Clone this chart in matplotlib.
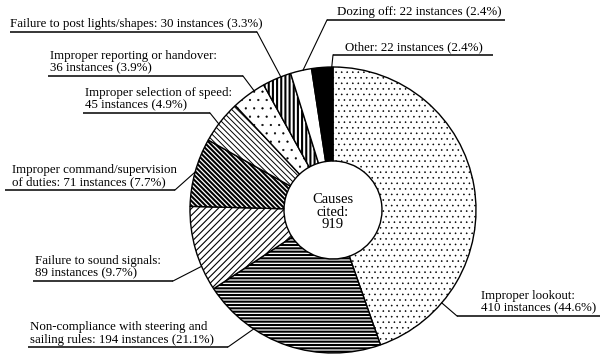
import numpy as np
import matplotlib
matplotlib.use("Agg")
import matplotlib.pyplot as plt

# ---- data ----
causes = ["Improper lookout", "Non-compliance with steering and sailing rules",
          "Failure to sound signals", "Improper command/supervision of duties",
          "Improper selection of speed", "Improper reporting or handover",
          "Failure to post lights/shapes", "Dozing off", "Other"]
counts = [410, 194, 89, 71, 45, 36, 30, 22, 22]
percents = [44.6, 21.1, 9.7, 7.7, 4.9, 3.9, 3.3, 2.4, 2.4]
total = 919
label_texts = [
    "Improper lookout:\n410 instances (44.6%)",
    "Non-compliance with steering and\nsailing rules: 194 instances (21.1%)",
    "Failure to sound signals:\n89 instances (9.7%)",
    "Improper command/supervision\nof duties: 71 instances (7.7%)",
    "Improper selection of speed:\n45 instances (4.9%)",
    "Improper reporting or handover:\n36 instances (3.9%)",
    "Failure to post lights/shapes: 30 instances (3.3%)",
    "Dozing off: 22 instances (2.4%)",
    "Other: 22 instances (2.4%)",
]
center_text = "Causes\ncited:\n%d" % total

# ---- styling ----
hatches = ["...", "-----", "/////", "\\" * 7, "\\" * 6, "..", "||||", "", ""]
faces = ["white"] * 7 + ["white", "black"]
hatch_lw = [0.4, 1.5, 0.8, 1.5, 0.7, 0.35, 1.5, 1.0, 1.0]

W, H = 600, 360
fig = plt.figure(figsize=(6, 3.6), dpi=100)
ax = fig.add_axes([0, 0, 1, 1])

def Y(y):
    return H - y

cx, cy = 333, Y(210)
R, r_in = 143, 49

wedges, _ = ax.pie(counts, center=(cx, cy), radius=R, startangle=90,
                   counterclock=False, frame=True,
                   wedgeprops=dict(width=R - r_in, edgecolor="black", linewidth=1.0))
ax.set_xlim(0, W)
ax.set_ylim(0, H)
ax.set_aspect("equal")
ax.axis("off")
for w, h, fc, lw in zip(wedges, hatches, faces, hatch_lw):
    w.set_facecolor(fc)
    w.set_hatch(h)
    if hasattr(w, "set_hatch_linewidth"):
        w.set_hatch_linewidth(lw)

ax.text(cx, Y(212), center_text, ha="center", va="center", fontsize=10.5,
        family="Liberation Serif", linespacing=0.95)

# label layout: (text x, underline y, underline x0, underline x1, leader side, anchor angle deg)
layout = [
    (481, 316, 457, 600, "left", 319.5),
    (30, 347, 28, 228, "right", 236.3),
    (35, 281, 33, 173, "right", 203.2),
    (12, 190, 5, 175, "right", 164.6),
    (85, 113, 83, 210, "right", 143.0),
    (50, 76, 48, 243, "right", 123.5),
    (10, 32, 10, 257, "right", 111.4),
    (337, 20, 327, 505, "left", 102.1),
    (345, 55, 333, 493, "left", 90.5),
]

for txt, (tx, uy, x0, x1, side, ang) in zip(label_texts, layout):
    ax.text(tx, Y(uy - 1.5), txt, ha="left", va="bottom", fontsize=9.3,
            family="Liberation Serif", linespacing=1.1)
    ax.plot([x0, x1], [Y(uy), Y(uy)], color="black", lw=1.1, solid_capstyle="butt")
    sx = x1 if side == "right" else x0
    a = np.deg2rad(ang)
    ex, ey = cx + R * np.cos(a), cy + R * np.sin(a)
    ax.plot([sx, ex], [Y(uy), ey], color="black", lw=0.8)

fig.savefig("out.png", dpi=100, facecolor="white")
